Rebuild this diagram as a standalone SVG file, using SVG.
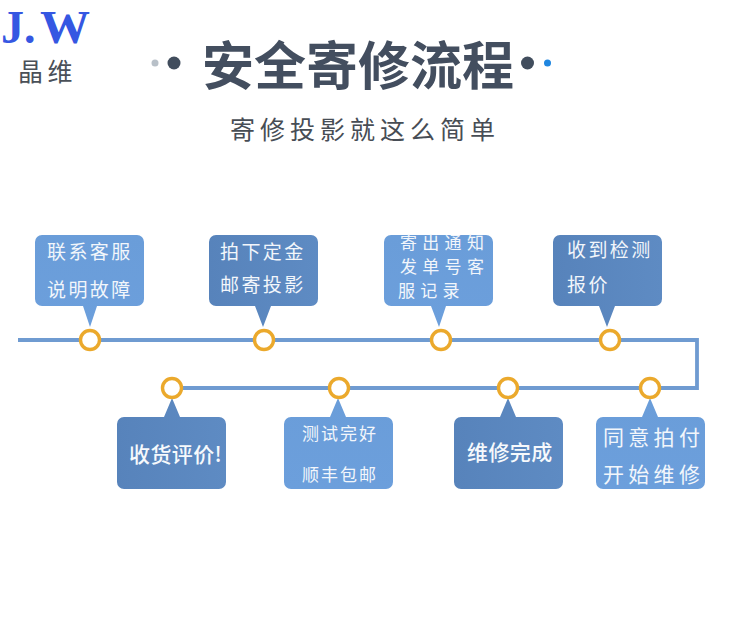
<svg xmlns="http://www.w3.org/2000/svg" width="750" height="643" viewBox="0 0 750 643">
<defs>
<linearGradient id="lg" x1="0" y1="0" x2="0" y2="1"><stop offset="0" stop-color="#6a9dd9"/><stop offset="1" stop-color="#6c9fdc"/></linearGradient>
<linearGradient id="dg" x1="0" y1="0" x2="1" y2="0"><stop offset="0" stop-color="#5783bb"/><stop offset="1" stop-color="#5e8bc3"/></linearGradient>
</defs>
<style>
text{font-family:"Noto Sans CJK SC","Liberation Sans",sans-serif}
.light{fill:url(#lg)}
.dark{fill:url(#dg)}
.t{fill:#f2f6fb;font-size:19px;letter-spacing:2.4px}
.w{fill:#f2f6fb;font-size:21px;letter-spacing:4.300px}
.n{fill:#f2f6fb;font-size:17px;letter-spacing:2px}
.s{fill:#f2f6fb;font-size:17px;letter-spacing:5.300px}
.b{fill:#f6f9fc;font-size:21px;font-weight:500;letter-spacing:.4px}
.line{fill:none;stroke:#6f9bd1;stroke-width:3.8}
.ring{fill:#fff;stroke:#eba92c;stroke-width:3.4}
.logo{font-family:"Liberation Serif",serif;font-weight:700;font-size:46px;fill:#3557e2}
</style>
<rect width="750" height="643" fill="#fff"/>
<g id="logo">
<text class="logo" x="1" y="43">J</text>
<text class="logo" x="24" y="43">.</text>
<text class="logo" x="40" y="43" textLength="50" lengthAdjust="spacingAndGlyphs">W</text>
<text x="18" y="81" font-size="25" letter-spacing="4.500" fill="#4a5058">晶维</text>
</g>
<g id="title">
<circle cx="155" cy="63" r="3.500" fill="#b8c0c8"/>
<circle cx="174" cy="63" r="6.500" fill="#414d5d"/>
<text x="202" y="85" font-size="52" font-weight="700" fill="#434e5f">安全寄修流程</text>
<circle cx="527.500" cy="63" r="6.500" fill="#414d5d"/>
<circle cx="547.500" cy="63" r="3.500" fill="#1f86e0"/>
<text x="230" y="139" font-size="25" letter-spacing="5" fill="#474d55">寄修投影就这么简单</text>
</g>
<g id="connectors">
<path class="line" d="M18 340H697V388H172"/>
</g>
<g id="n1">
<path class="light" d="M42 235H137a7 7 0 0 1 7 7V299a7 7 0 0 1-7 7H97L90 327L83 306H42a7 7 0 0 1-7-7V242a7 7 0 0 1 7-7Z"/>
<text class="t" x="47" y="259">联系客服</text><text class="t" x="47" y="297">说明故障</text>
<circle class="ring" cx="90" cy="340" r="9.500"/>
</g>
<g id="n2">
<path class="dark" d="M216 235H311a7 7 0 0 1 7 7V299a7 7 0 0 1-7 7H271L263 327L255 306H216a7 7 0 0 1-7-7V242a7 7 0 0 1 7-7Z"/>
<text class="t" x="220" y="259">拍下定金</text><text class="t" x="220" y="292">邮寄投影</text>
<circle class="ring" cx="264" cy="340" r="9.500"/>
</g>
<g id="n3">
<path class="light" d="M391 235H486a7 7 0 0 1 7 7V299a7 7 0 0 1-7 7H446L439 327L431 306H391a7 7 0 0 1-7-7V242a7 7 0 0 1 7-7Z"/>
<text class="s" x="400" y="249">寄出通知</text><text class="s" x="400" y="273">发单号客</text><text class="s" x="398" y="297">服记录</text>
<circle class="ring" cx="441" cy="340" r="9.500"/>
</g>
<g id="n4">
<path class="dark" d="M560 235H655a7 7 0 0 1 7 7V299a7 7 0 0 1-7 7H615L607 327L599 306H560a7 7 0 0 1-7-7V242a7 7 0 0 1 7-7Z"/>
<text class="t" x="567" y="257">收到检测</text><text class="t" x="567" y="292">报价</text>
<circle class="ring" cx="610" cy="340" r="9.500"/>
</g>
<g id="n5">
<path class="light" d="M603 417H642L650 398L658 417H698a7 7 0 0 1 7 7V482a7 7 0 0 1-7 7H603a7 7 0 0 1-7-7V424a7 7 0 0 1 7-7Z"/>
<text class="w" x="603" y="445">同意拍付</text><text class="w" x="603" y="482">开始维修</text>
<circle class="ring" cx="650" cy="388" r="9.500"/>
</g>
<g id="n6">
<path class="dark" d="M461 417H500L508 398L516 417H556a7 7 0 0 1 7 7V482a7 7 0 0 1-7 7H461a7 7 0 0 1-7-7V424a7 7 0 0 1 7-7Z"/>
<text class="b" x="467" y="460">维修完成</text>
<circle class="ring" cx="508" cy="388" r="9.500"/>
</g>
<g id="n7">
<path class="light" d="M291 417H330L338 398L346 417H386a7 7 0 0 1 7 7V482a7 7 0 0 1-7 7H291a7 7 0 0 1-7-7V424a7 7 0 0 1 7-7Z"/>
<text class="n" x="302" y="440">测试完好</text><text class="n" x="302" y="481">顺丰包邮</text>
<circle class="ring" cx="339" cy="388" r="9.500"/>
</g>
<g id="n8">
<path class="dark" d="M124 417H164L172 398L180 417H219a7 7 0 0 1 7 7V482a7 7 0 0 1-7 7H124a7 7 0 0 1-7-7V424a7 7 0 0 1 7-7Z"/>
<text class="b" x="129" y="462">收货评价!</text>
<circle class="ring" cx="172" cy="388" r="9.500"/>
</g>
</svg>
